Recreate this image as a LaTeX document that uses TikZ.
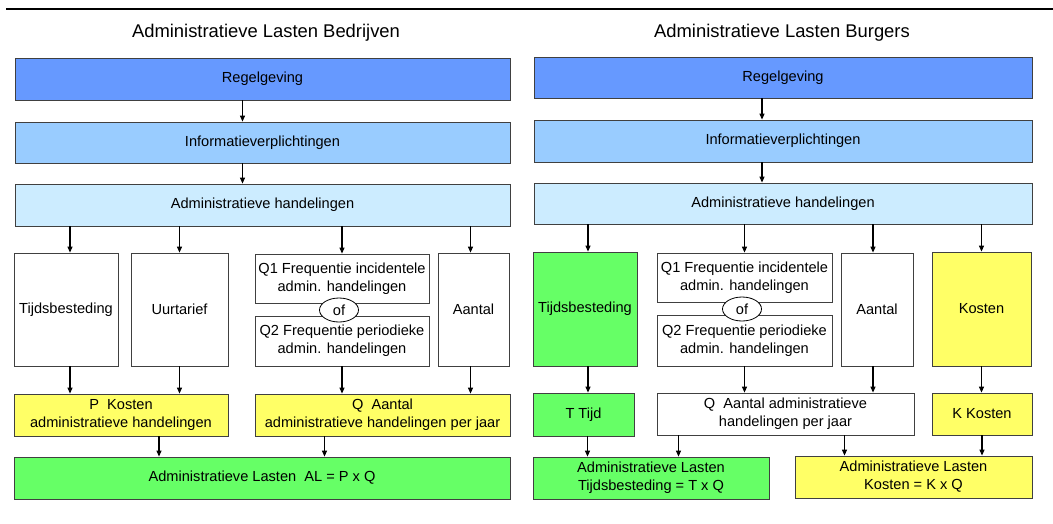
\documentclass[tikz,border=0pt]{standalone}
\usepackage{fontspec}
\setmainfont{Liberation Sans}
\usetikzlibrary{arrows.meta, positioning, calc}
\usetikzlibrary{shapes.geometric}

\definecolor{regblue}{HTML}{6699FF}
\definecolor{infblue}{HTML}{99CCFF}
\definecolor{admblue}{HTML}{CCECFF}
\definecolor{algreen}{HTML}{66FF66}
\definecolor{alyellow}{HTML}{FFFF66}

\begin{document}
\begin{tikzpicture}[x=1pt, y=-1pt,
    box/.style={draw=black!75, line width=0.8pt, inner sep=0pt, align=center,
      font=\fontsize{14.6}{18}\selectfont},
    ofnode/.style={ellipse, draw=black, fill=white, line width=0.8pt, inner sep=0pt,
      minimum width=39pt, minimum height=24pt, font=\fontsize{14.6}{18}\selectfont},
    titel/.style={font=\fontsize{18.4}{22}\selectfont},
    ->, >={Triangle[length=6pt,width=5pt]}, line width=1.1pt]
  \useasboundingbox (0,0) rectangle (1053,523);

  % rule at the top
  \draw[-, line width=2.4pt] (6,9) -- (1053,9);

  % Left: bedrijven
  \node[titel] (titleL) at (266,33) {Administratieve Lasten Bedrijven};
  \node[box, fill=regblue, minimum width=495pt, minimum height=42pt] (regL) at (262.5,79) {Regelgeving};
  \node[box, fill=infblue, minimum width=495pt, minimum height=41pt] (infL) at (262.5,142.5) {Informatieverplichtingen};
  \node[box, fill=admblue, minimum width=495pt, minimum height=42pt] (admL) at (262.5,205) {Administratieve handelingen};

  \node[box, fill=white, minimum width=104pt, minimum height=113pt] (tijdL) at (66,309.5) {Tijdsbesteding};
  \node[box, fill=white, minimum width=97pt, minimum height=113pt] (uurL) at (179.5,309.5) {Uurtarief};
  \node[box, fill=white, minimum width=174pt, minimum height=49pt] (q1L) at (342,278.5) {Q1 Frequentie incidentele\\admin. handelingen};
  \node[box, fill=white, minimum width=174pt, minimum height=50pt] (q2L) at (342,341) {Q2 Frequentie periodieke\\admin. handelingen};
  \node[ofnode] (ofL) at (339,310) {of};
  \node[box, fill=white, minimum width=71pt, minimum height=113pt] (aantL) at (473.5,309.5) {Aantal};

  \node[box, fill=alyellow, minimum width=214pt, minimum height=42pt] (pL) at (121,415) {P\ \ Kosten\\administratieve handelingen};
  \node[box, fill=alyellow, minimum width=255pt, minimum height=42pt] (qL) at (382.5,415) {Q\ \ Aantal\\administratieve handelingen per jaar};
  \node[box, fill=algreen, minimum width=496pt, minimum height=42pt] (alL) at (262,478) {Administratieve Lasten\ \ AL = P x Q};

  % Left arrows
  \draw ([xshift=-20pt]regL.south) -- ([xshift=-20pt]regL.south |- infL.north);
  \draw ([xshift=-20pt]infL.south) -- ([xshift=-20pt]infL.south |- admL.north);
  \draw ([xshift=4pt]admL.south -| tijdL.north) -- ([xshift=4pt]tijdL.north);
  \draw (admL.south -| uurL.north) -- (uurL.north);
  \draw (admL.south -| q1L.north) -- (q1L.north);
  \draw ([xshift=-3pt]admL.south -| aantL.north) -- ([xshift=-3pt]aantL.north);
  \draw ([xshift=4pt]tijdL.south) -- ([xshift=4pt]tijdL.south |- pL.north);
  \draw (uurL.south) -- (uurL.south |- pL.north);
  \draw (q2L.south) -- (q2L.south |- qL.north);
  \draw ([xshift=-3pt]aantL.south) -- ([xshift=-3pt]aantL.south |- qL.north);
  \draw ([xshift=38pt]pL.south) -- ([xshift=38pt]pL.south |- alL.north);
  \draw ([xshift=-58pt]qL.south) -- ([xshift=-58pt]qL.south |- alL.north);

  % Right: burgers
  \node[titel] (titleR) at (782,33) {Administratieve Lasten Burgers};
  \node[box, fill=regblue, minimum width=498pt, minimum height=41pt] (regR) at (783,77.5) {Regelgeving};
  \node[box, fill=infblue, minimum width=498pt, minimum height=42pt] (infR) at (783,141) {Informatieverplichtingen};
  \node[box, fill=admblue, minimum width=498pt, minimum height=41pt] (admR) at (783,203.5) {Administratieve handelingen};

  \node[box, fill=algreen, minimum width=104pt, minimum height=114pt] (tijdR) at (585,309) {Tijdsbesteding};
  \node[box, fill=white, minimum width=175pt, minimum height=49pt] (q1R) at (744.5,277.5) {Q1 Frequentie incidentele\\admin. handelingen};
  \node[box, fill=white, minimum width=175pt, minimum height=51pt] (q2R) at (744.5,340.5) {Q2 Frequentie periodieke\\admin. handelingen};
  \node[ofnode] (ofR) at (742,309) {of};
  \node[box, fill=white, minimum width=72pt, minimum height=113pt] (aantR) at (877,309.5) {Aantal};
  \node[box, fill=alyellow, minimum width=99pt, minimum height=114pt] (kostR) at (981.5,309) {Kosten};

  \node[box, fill=algreen, minimum width=101pt, minimum height=43pt] (tR) at (583.5,414.5) {T Tijd};
  \node[box, fill=white, minimum width=257pt, minimum height=42pt] (qR) at (785.5,414) {Q\ \ Aantal administratieve\\handelingen per jaar};
  \node[box, fill=alyellow, minimum width=100pt, minimum height=42pt] (kR) at (982,414) {K Kosten};
  \node[box, fill=algreen, minimum width=236pt, minimum height=42pt] (altR) at (651,478) {Administratieve Lasten\\Tijdsbesteding = T x Q};
  \node[box, fill=alyellow, minimum width=237pt, minimum height=42pt] (alkR) at (913.5,477) {Administratieve Lasten\\Kosten = K x Q};

  % Right arrows
  \draw ([xshift=-21pt]regR.south) -- ([xshift=-21pt]regR.south |- infR.north);
  \draw ([xshift=-21pt]infR.south) -- ([xshift=-21pt]infR.south |- admR.north);
  \draw ([xshift=3pt]admR.south -| tijdR.north) -- ([xshift=3pt]tijdR.north);
  \draw (admR.south -| q1R.north) -- (q1R.north);
  \draw ([xshift=-4pt]admR.south -| aantR.north) -- ([xshift=-4pt]aantR.north);
  \draw (admR.south -| kostR.north) -- (kostR.north);
  \draw ([xshift=3pt]tijdR.south) -- ([xshift=3pt]tijdR.south |- tR.north);
  \draw (q2R.south) -- (q2R.south |- qR.north);
  \draw ([xshift=-4pt]aantR.south) -- ([xshift=-4pt]aantR.south |- qR.north);
  \draw (kostR.south) -- (kostR.south |- kR.north);
  \draw ([xshift=4pt]tR.south) -- ([xshift=4pt]tR.south |- altR.north);
  \draw ([xshift=-107pt]qR.south) -- ([xshift=-107pt]qR.south |- altR.north);
  \draw ([xshift=59pt]qR.south) -- ([xshift=59pt]qR.south |- alkR.north);
  \draw (kR.south) -- (kR.south |- alkR.north);
\end{tikzpicture}
\end{document}
